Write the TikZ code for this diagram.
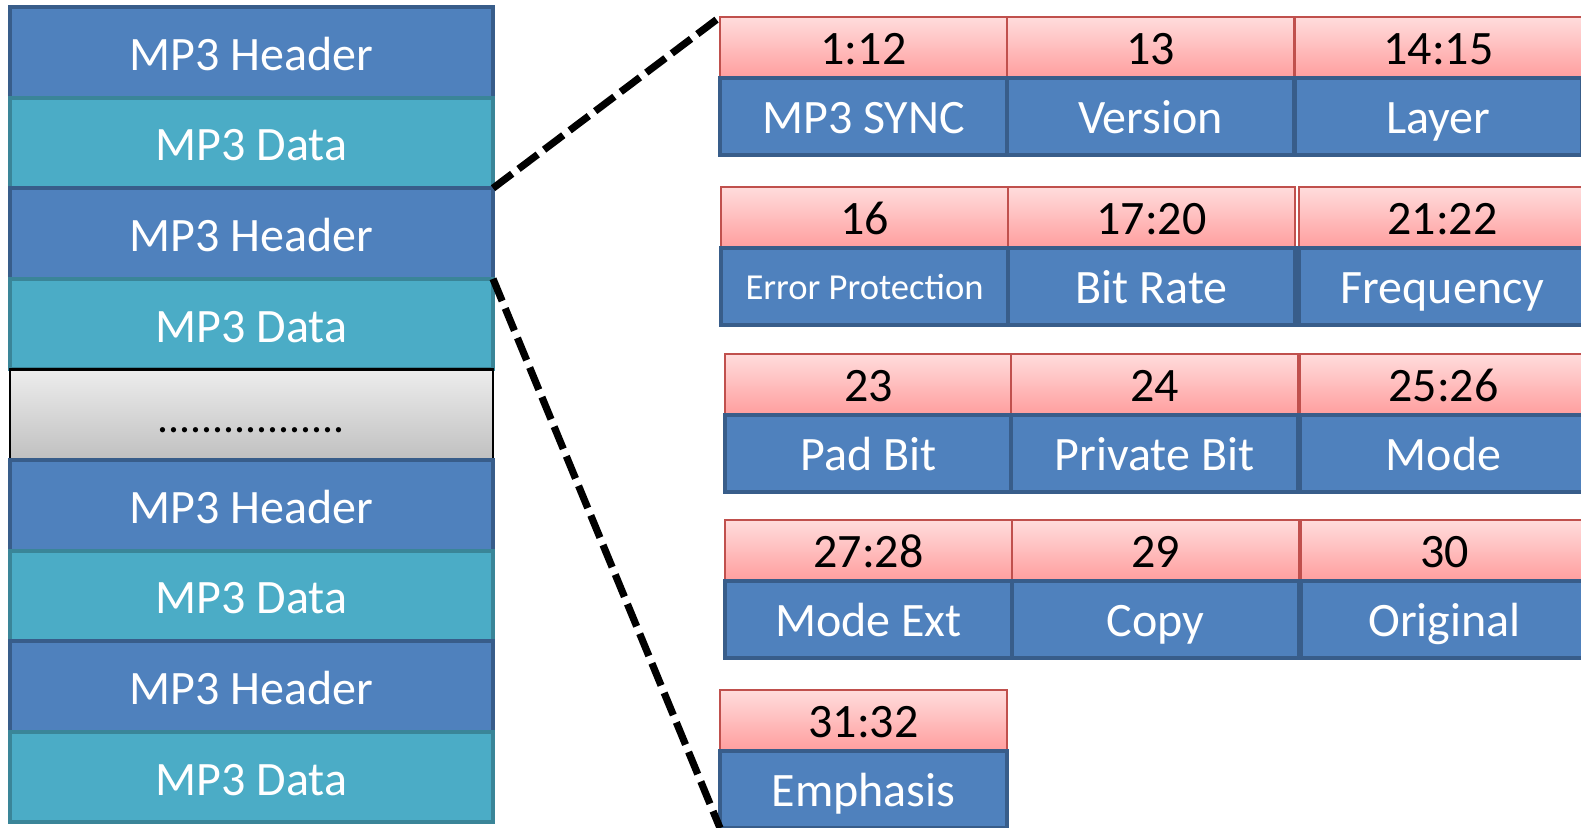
\documentclass[tikz,border=0pt]{standalone}
\usepackage{fontspec}
\setmainfont{Carlito}

\definecolor{hdrblue}{HTML}{4F81BD}
\definecolor{hdrline}{HTML}{385D8A}
\definecolor{datateal}{HTML}{4BACC6}
\definecolor{dataline}{HTML}{3A8598}
\definecolor{pinktop}{HTML}{FFDCDC}
\definecolor{pinkbot}{HTML}{FF9E9E}
\definecolor{pinkline}{HTML}{C0504D}
\definecolor{graytop}{HTML}{EDEDED}
\definecolor{graybot}{HTML}{C0C0C0}

\tikzset{
  bigfont/.style={font=\fontsize{24}{28}\selectfont},
  block/.style={draw, line width=2pt, minimum width=241.5pt, minimum height=45.3pt,
    inner sep=0pt, outer sep=0pt, anchor=north west, bigfont, text=white,
    text height=18pt, text depth=0pt},
  hdr/.style={block, fill=hdrblue, draw=hdrline},
  dat/.style={block, fill=datateal, draw=dataline},
  gapbox/.style={block, draw=black, line width=1.2pt, top color=graytop,
    bottom color=graybot, text=black, font=\fontsize{21.8}{26}\selectfont},
  bits/.style={draw=pinkline, line width=0.9pt, top color=pinktop, bottom color=pinkbot,
    minimum width=143.5pt, minimum height=30.5pt, inner sep=0pt, outer sep=0pt,
    anchor=north west, bigfont, text=black, text height=17pt, text depth=0pt},
  fname/.style={draw=hdrline, fill=hdrblue, line width=1.8pt, minimum width=143.5pt,
    minimum height=38.5pt, inner sep=0pt, outer sep=0pt, anchor=north west, bigfont,
    text=white, text height=17pt, text depth=0pt},
  zoomline/.style={black, line width=3.6pt, dash pattern=on 12pt off 4pt}
}

% one header field: bit range on top, field name below
\newcommand{\bitfield}[6]{%
  \node[bits] (#1-bits) at (#2,#3) {#4};
  \node[fname, #6] (#1-name) at (#1-bits.south west) {#5};
}

\begin{document}
\begin{tikzpicture}[x=0.5pt, y=-0.5pt]
  \clip (0,0) rectangle (1581,827);

  % stream of frames
  \node[hdr] (h1) at (10,7) {MP3 Header};
  \node[dat] (d1) at (10,97.6) {MP3 Data};
  \node[hdr] (h2) at (10,188.2) {MP3 Header};
  \node[dat] (d2) at (10,278.8) {MP3 Data};
  \node[gapbox] (more) at (10,369.4) {.................};
  \node[hdr] (h3) at (10,460) {MP3 Header};
  \node[dat] (d3) at (10,550.6) {MP3 Data};
  \node[hdr] (h4) at (10,641.2) {MP3 Header};
  \node[dat] (d4) at (10,731.8) {MP3 Data};

  % header bit layout
  \bitfield{sync}{720}{17}{1:12}{MP3 SYNC}{}
  \bitfield{ver}{1007}{17}{13}{Version}{}
  \bitfield{lay}{1295}{17}{14:15}{Layer}{}

  \bitfield{prot}{721}{187}{16}{Error Protection}{font=\fontsize{18.3}{22}\selectfont, text height=12.5pt}
  \bitfield{rate}{1008}{187}{17:20}{Bit Rate}{}
  \bitfield{freq}{1299}{187}{21:22}{Frequency}{}

  \bitfield{pad}{725}{354}{23}{Pad Bit}{}
  \bitfield{priv}{1011}{354}{24}{Private Bit}{}
  \bitfield{mode}{1300}{354}{25:26}{Mode}{}

  \bitfield{mext}{725}{520}{27:28}{Mode Ext}{}
  \bitfield{copy}{1012}{520}{29}{Copy}{}
  \bitfield{orig}{1301}{520}{30}{Original}{}

  \bitfield{emph}{720}{690}{31:32}{Emphasis}{}

  % zoom lines from the second header
  \draw[zoomline] (h2.north east) -- (sync-bits.north west);
  \draw[zoomline] (h2.south east) -- (emph-name.south west);
\end{tikzpicture}
\end{document}
